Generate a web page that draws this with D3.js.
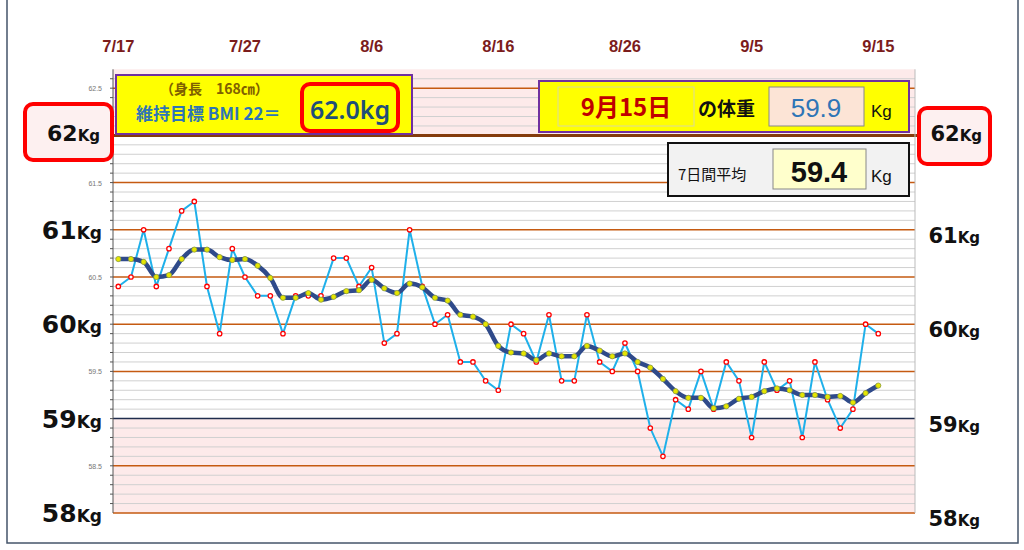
<!DOCTYPE html>
<html><head><meta charset="utf-8">
<script src="https://cdn.jsdelivr.net/npm/d3@7"></script>
<style>body{margin:0;background:#fff}svg{display:block;font-family:"Noto Sans CJK JP","Noto Sans",sans-serif}</style>
</head><body><svg id="c" width="1024" height="550"></svg>
<script>
const dateLabels = ["7/17","7/27","8/6","8/16","8/26","9/5","9/15"];
const weights = [60.4,60.5,61.0,60.4,60.8,61.2,61.3,60.4,59.9,60.8,60.5,60.3,60.3,59.9,60.3,60.3,60.3,60.7,60.7,60.4,60.6,59.8,59.9,
 61.0,60.4,60.0,60.1,59.6,59.6,59.4,59.3,60.0,59.9,59.6,60.1,59.4,59.4,60.1,59.6,59.5,59.8,59.5,
 58.9,58.6,59.2,59.1,59.5,59.1,59.6,59.4,58.8,59.6,59.3,59.4,58.8,59.6,59.2,58.9,59.1,60.0,59.9];
const averages = [60.69,60.69,60.66,60.50,60.52,60.69,60.79,60.79,60.71,60.68,60.69,60.62,60.49,60.28,60.28,60.33,60.26,60.29,60.35,60.36,60.47,60.38,60.33,
 60.43,60.39,60.28,60.25,60.10,60.08,60.0,59.77,59.70,59.69,59.62,59.69,59.66,59.66,59.77,59.72,59.66,59.69,59.60,
 59.54,59.42,59.29,59.22,59.22,59.11,59.13,59.21,59.23,59.29,59.32,59.30,59.25,59.25,59.23,59.24,59.17,59.27,59.35];
const smallTicks = [62.5,61.5,60.5,59.5,58.5];
const bigTicks = [62,61,60,59,58];

const svg = d3.select("#c");
const x = d3.scaleLinear().domain([-0.42,62.9]).range([113,915]);
const y = d3.scaleLinear().domain([58,62.7]).range([513,69.3]);
const L=113,R=915;

svg.append("rect").attr("x",7).attr("y",-3).attr("width",1011).attr("height",546).attr("fill","none").attr("stroke","#44546a").attr("stroke-width",1.5);

svg.append("rect").attr("x",L).attr("y",y(62.7)).attr("width",R-L).attr("height",y(62)-y(62.7)).attr("fill","#fdeaea");
svg.append("rect").attr("x",L).attr("y",y(59)).attr("width",R-L).attr("height",y(58)-y(59)).attr("fill","#fdeaea");

const minor = d3.range(581,627).map(v=>v/10).filter(v=>Math.round(v*10)%5!==0);
svg.selectAll(".mn").data(minor).join("line").attr("x1",L).attr("x2",R).attr("y1",d=>y(d)).attr("y2",d=>y(d)).attr("stroke","#d0d0d0").attr("stroke-width",1);
const major = [58,58.5,59.5,60,60.5,61,61.5,62.5];
svg.selectAll(".mj").data(major).join("line").attr("x1",L).attr("x2",R).attr("y1",d=>y(d)).attr("y2",d=>y(d)).attr("stroke","#c55a11").attr("stroke-width",1.5);
svg.append("line").attr("x1",L).attr("x2",R).attr("y1",y(59)).attr("y2",y(59)).attr("stroke","#1f2d4d").attr("stroke-width",1.5);
svg.append("line").attr("x1",L).attr("x2",R+3).attr("y1",y(62)).attr("y2",y(62)).attr("stroke","#843c0c").attr("stroke-width",3);
svg.append("line").attr("x1",L).attr("x2",L).attr("y1",y(62.7)).attr("y2",y(58)).attr("stroke","#555").attr("stroke-width",1);
svg.append("line").attr("x1",R).attr("x2",R).attr("y1",y(62.7)).attr("y2",y(58)).attr("stroke","#bbb").attr("stroke-width",1);
svg.selectAll(".tk").data(d3.range(581,627).map(v=>v/10)).join("line").attr("x1",L-3).attr("x2",L).attr("y1",d=>y(d)).attr("y2",d=>y(d)).attr("stroke","#555");

svg.selectAll(".st").data(smallTicks).join("text").attr("x",102).attr("y",d=>y(d)+3).attr("text-anchor","end").attr("font-size",7).attr("fill","#777").attr("font-family","Liberation Sans").text(d=>d.toFixed(1));

svg.selectAll(".dl").data(dateLabels).join("text").attr("x",(d,i)=>x(i*10)).attr("y",52).attr("text-anchor","middle").attr("font-size",16.5).attr("font-weight","bold").attr("fill","#7b1c1c").attr("font-family","Liberation Sans").text(d=>d);

function kgLabel(xr,yy,v,big,small){
  const t=svg.append("text").attr("x",xr).attr("y",yy).attr("text-anchor","end").attr("font-weight","bold").attr("fill","#111").attr("font-family","DejaVu Sans");
  t.append("tspan").attr("font-size",big).text(v);
  t.append("tspan").attr("font-size",small).text("Kg");
}
svg.append("rect").attr("x",25).attr("y",104).attr("width",87).attr("height",56).attr("rx",8).attr("fill","#fdf0f0").attr("stroke","#ff0000").attr("stroke-width",4);
svg.append("rect").attr("x",919).attr("y",108).attr("width",71).attr("height",56).attr("rx",8).attr("fill","#fdf0f0").attr("stroke","#ff0000").attr("stroke-width",4);
bigTicks.forEach(v=>{
  const yy=y(v)+ (v===62?6:9);
  kgLabel(v===62?100:102,yy,String(v),v===62?22:25,v===62?15:17);
  kgLabel(v===62?982:980,yy+(v===62?0:4),String(v),21,15);
});

svg.append("rect").attr("x",116).attr("y",75).attr("width",296).attr("height",59).attr("fill","#ffff00").attr("stroke","#7030a0").attr("stroke-width",2);
svg.append("text").attr("x",160).attr("y",94).attr("font-size",14).attr("font-weight","bold").attr("fill","#7f6000").text("（身長　168㎝）");
svg.append("text").attr("x",136).attr("y",120).attr("font-size",17).attr("font-weight","bold").attr("fill","#2e75b6").text("維持目標 BMI 22＝");
svg.append("rect").attr("x",302).attr("y",84).attr("width",96).attr("height",47).attr("rx",8).attr("fill","none").attr("stroke","#ff0000").attr("stroke-width",4);
svg.append("text").attr("x",350).attr("y",119).attr("text-anchor","middle").attr("font-size",25).attr("font-weight","600").attr("fill","#1f4e79").attr("font-family","Noto Sans").text("62.0kg");

svg.append("rect").attr("x",539).attr("y",81).attr("width",370).attr("height",51).attr("fill","#ffff00").attr("stroke","#7030a0").attr("stroke-width",2);
svg.append("rect").attr("x",558).attr("y",87).attr("width",136).attr("height",39).attr("fill","#ffff00").attr("stroke","#d9d9a0");
svg.append("text").attr("x",626).attr("y",116).attr("text-anchor","middle").attr("font-size",24).attr("font-weight","bold").attr("fill","#c00000").text("9月15日");
svg.append("text").attr("x",698).attr("y",116).attr("font-size",19).attr("font-weight","bold").attr("fill","#111").text("の体重");
svg.append("rect").attr("x",769).attr("y",87).attr("width",95).attr("height",39).attr("fill","#fce4d6").attr("stroke","#888");
svg.append("text").attr("x",816).attr("y",117).attr("text-anchor","middle").attr("font-size",26).attr("fill","#2e75b6").attr("font-family","Liberation Sans Narrow, Liberation Sans").text(weights[weights.length-1].toFixed(1));
svg.append("text").attr("x",871).attr("y",117).attr("font-size",17).attr("fill","#111").attr("font-family","Liberation Sans").text("Kg");

svg.append("rect").attr("x",668).attr("y",143).attr("width",241).attr("height",53).attr("fill","#f2f2f2").attr("stroke","#111").attr("stroke-width",2);
svg.append("text").attr("x",678).attr("y",180).attr("font-size",15).attr("fill","#111").text("7日間平均");
svg.append("rect").attr("x",773).attr("y",149).attr("width",93).attr("height",40).attr("fill","#ffffcc").attr("stroke","#888");
svg.append("text").attr("x",819).attr("y",182).attr("text-anchor","middle").attr("font-size",29).attr("font-weight","bold").attr("fill","#111").attr("font-family","Liberation Sans Narrow, Liberation Sans").text(averages[averages.length-1].toFixed(1));
svg.append("text").attr("x",871).attr("y",182).attr("font-size",17).attr("fill","#111").attr("font-family","Liberation Sans").text("Kg");

const line = d3.line().x((d,i)=>x(i)).y(d=>y(d));
svg.append("path").datum(weights).attr("d",line).attr("fill","none").attr("stroke","#1fb0ea").attr("stroke-width",2);
svg.selectAll(".rp").data(weights).join("circle").attr("cx",(d,i)=>x(i)).attr("cy",d=>y(d)).attr("r",2.2).attr("fill","#fff").attr("stroke","#ff0000").attr("stroke-width",1.3);
const sline = d3.line().x((d,i)=>x(i)).y(d=>y(d)).curve(d3.curveMonotoneX);
svg.append("path").datum(averages).attr("d",sline).attr("fill","none").attr("stroke","#2f4a8a").attr("stroke-width",4.5);
svg.selectAll(".ap").data(averages).join("circle").attr("cx",(d,i)=>x(i)).attr("cy",d=>y(d)).attr("r",2.6).attr("fill","#e6e600").attr("stroke","#8a9a40").attr("stroke-width",0.8);
</script></body></html>
